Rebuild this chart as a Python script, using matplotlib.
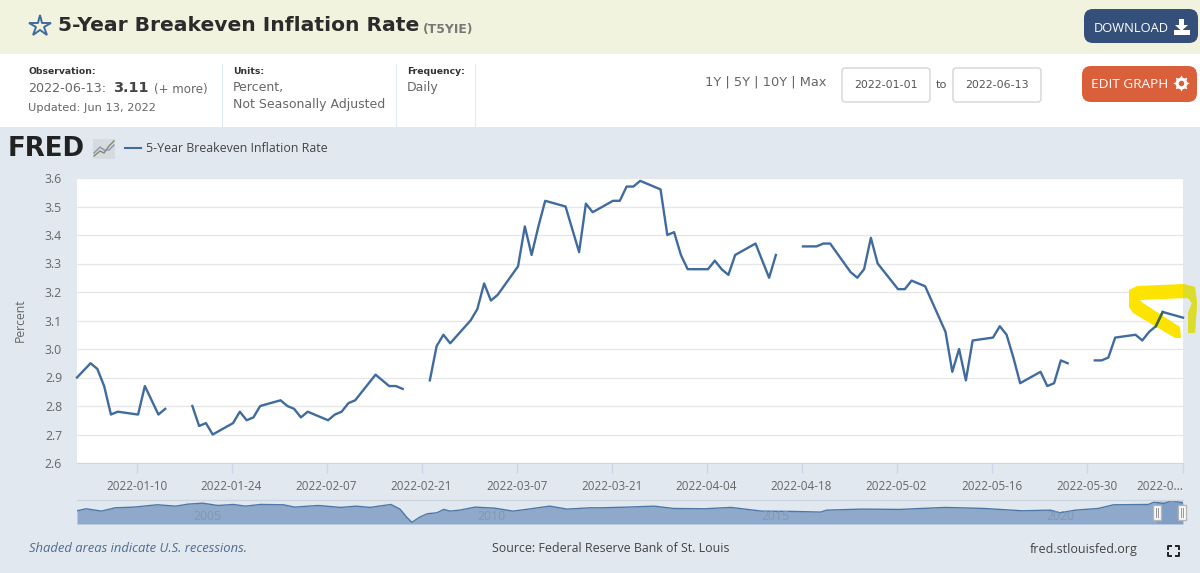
""" FRED 5-year breakeven inflation rate page, redrawn with matplotlib """
import pandas as pd
from matplotlib import pyplot as plt
from matplotlib.patches import FancyBboxPatch, Polygon, Rectangle
from matplotlib.transforms import ScaledTranslation

W, H = 1200, 573
nan = float("nan")

# daily observations, one row per week (Jan 1 first, then Mon-Fri from Jan 3)
obs_dates = pd.to_datetime(["2022-01-01"]).append(pd.bdate_range("2022-01-03", "2022-06-13"))
obs_values = [2.90,
              2.95, 2.93, 2.87, 2.77, 2.78,
              2.77, 2.87, 2.82, 2.77, 2.79,
              nan, 2.80, 2.73, 2.74, 2.70,
              2.74, 2.78, 2.75, 2.76, 2.80,
              2.82, 2.80, 2.79, 2.76, 2.78,
              2.75, 2.77, 2.78, 2.81, 2.82,
              2.91, 2.89, 2.87, 2.87, 2.86,
              nan, 2.89, 3.01, 3.05, 3.02,
              3.10, 3.14, 3.23, 3.17, 3.19,
              3.29, 3.43, 3.33, 3.43, 3.52,
              3.50, 3.42, 3.34, 3.51, 3.48,
              3.52, 3.52, 3.57, 3.57, 3.59,
              3.56, 3.40, 3.41, 3.33, 3.28,
              3.28, 3.31, 3.28, 3.26, 3.33,
              3.37, 3.31, 3.25, 3.33, nan,
              3.36, 3.36, 3.36, 3.37, 3.37,
              3.27, 3.25, 3.28, 3.39, 3.30,
              3.21, 3.21, 3.24, 3.23, 3.22,
              3.06, 2.92, 3.00, 2.89, 3.03,
              3.04, 3.08, 3.05, 2.97, 2.88,
              2.92, 2.87, 2.88, 2.96, 2.95,
              nan, 2.96, 2.96, 2.97, 3.04,
              3.05, 3.03, 3.06, 3.08, 3.13,
              3.11]

x_tick_dates = ["2022-01-10", "2022-01-24", "2022-02-07", "2022-02-21", "2022-03-07", "2022-03-21",
                "2022-04-04", "2022-04-18", "2022-05-02", "2022-05-16", "2022-05-30", "2022-06-13"]
x_tick_labels = x_tick_dates[:-1] + ["2022-0..."]
y_ticks = [2.6, 2.7, 2.8, 2.9, 3.0, 3.1, 3.2, 3.3, 3.4, 3.5, 3.6]

# long history in the navigator strip
nav_years = [2003.0, 2003.16, 2003.43, 2003.67, 2004.0, 2004.41, 2004.74, 2004.95, 2005.21, 2005.48,
             2005.75, 2005.96, 2006.23, 2006.63, 2006.83, 2007.24, 2007.64, 2007.91, 2008.15, 2008.52,
             2008.68, 2008.80, 2008.89, 2009.02, 2009.16, 2009.33, 2009.45, 2009.56, 2009.73, 2010.0,
             2010.34, 2010.67, 2010.94, 2011.31, 2011.62, 2012.02, 2012.21, 2012.68, 2013.15, 2013.49,
             2014.03, 2014.5, 2015.04, 2015.58, 2016.08, 2016.18, 2016.79, 2017.46, 2018.27, 2018.95,
             2019.62, 2020.12, 2020.29, 2020.56, 2020.96, 2021.23, 2021.84, 2021.94, 2022.11, 2022.25,
             2022.45]
nav_values = [2.05, 2.36, 2.00, 2.51, 2.62, 2.98, 2.77, 3.08, 3.23, 2.87,
              3.03, 2.77, 3.03, 2.98, 2.62, 2.87, 2.57, 2.77, 2.57, 3.03,
              2.31, 1.03, 0.26, 1.03, 1.59, 1.74, 2.26, 2.00, 2.15, 2.62,
              2.46, 2.00, 2.31, 2.77, 2.31, 2.51, 2.51, 2.62, 2.77, 2.41,
              2.36, 2.57, 2.00, 1.95, 1.85, 2.15, 2.31, 2.26, 2.57, 2.41,
              2.05, 2.15, 1.74, 2.15, 2.41, 2.98, 3.03, 3.39, 3.18, 3.59,
              3.29]
nav_year_labels = [2005, 2010, 2015, 2020]

BLUE = "#3f6b9e"
GREY = "#666666"
PAGE = "#e1e8f0"
SANS = "Open Sans"
WIDE = "DejaVu Sans"


def px_ax(left, top, right, bottom):
    """axes placed by picture pixels"""
    return fig.add_axes([left / W, 1 - bottom / H, (right - left) / W, (bottom - top) / H])


def label(x, y, s, size=8.2, color=GREY, family=WIDE, ha="left", **kw):
    return bg.text(x, y, s, fontsize=size, color=color, family=family, ha=ha, va="center", **kw)


def button(x0, y0, x1, y1, color, radius=9):
    bg.add_patch(FancyBboxPatch((x0 + radius, y0 + radius), x1 - x0 - 2 * radius, y1 - y0 - 2 * radius,
                                boxstyle="round,pad={},rounding_size={}".format(radius, radius),
                                fc=color, ec="none"))


fig = plt.figure(figsize=(W / 100, H / 100), dpi=100)

# page furniture, drawn in picture pixels
bg = px_ax(0, 0, W, H)
bg.set_xlim(0, W)
bg.set_ylim(H, 0)
bg.axis("off")
bg.add_patch(Rectangle((0, 0), W, 54, fc="#f2f3de", ec="none"))
bg.add_patch(Rectangle((0, 54), W, 73, fc="white", ec="none"))
bg.add_patch(Rectangle((0, 127), W, H - 127, fc=PAGE, ec="none"))

bg.plot(39.5, 26, marker="*", ms=16, mfc="none", mec="#3f6b9e", mew=1.4)
label(58, 25.5, "5-Year Breakeven Inflation Rate", size=14.6, color="#2b2b2b", weight="bold")
label(423, 29.5, "(T5YIE)", size=8.9, color="#777777", weight="bold")

label(28.5, 71, "Observation:", size=6.7, color="#333333", weight="bold")
label(28.5, 89, "2022-06-13:", size=9.2)
label(113, 88.5, "3.11", size=10.4, color="#444444", weight="bold")
label(154, 89, "(+ more)", size=8.6)
label(28.5, 108, "Updated: Jun 13, 2022", size=8.2)
label(233, 71, "Units:", size=6.7, color="#333333", weight="bold")
label(233, 87, "Percent,", size=9)
label(233, 104.5, "Not Seasonally Adjusted", size=9)
label(407, 71, "Frequency:", size=6.7, color="#333333", weight="bold")
label(407, 87, "Daily", size=9)
for x in [222, 396, 475]:
    bg.plot([x, x], [64, 127], color="#e3eaf2", lw=0.8)

label(705, 81.5, "1Y | 5Y | 10Y | Max", size=9.4)
for x0, s in [(842, "2022-01-01"), (953, "2022-06-13")]:
    bg.add_patch(FancyBboxPatch((x0 + 3, 71), 82, 28, boxstyle="round,pad=3,rounding_size=3",
                                fc="white", ec="#d5d5d5", lw=1))
    label(x0 + 44, 85.5, s, size=7.9, color="#555555", ha="center")
label(936, 85.5, "to", size=8.2, color="#555555")

button(1084, 9, 1198, 43, "#34507a")
label(1094, 28, "DOWNLOAD", size=9.3, color="white", family=SANS)
bg.fill([1179, 1184, 1184, 1188, 1181.5, 1175, 1179], [19, 19, 25, 25, 31, 25, 25], color="white", lw=0)
bg.add_patch(Rectangle((1174, 30), 16, 5, fc="white", ec="none"))
button(1082, 66, 1197, 102, "#d9603b")
label(1091, 84, "EDIT GRAPH", size=9.7, color="white", family=SANS)
bg.plot(1181, 83, marker=(8, 1, 0), ms=11, mfc="white", mec="white", mew=0.5)
bg.plot(1181, 83, marker="o", ms=7.5, mfc="white", mec="white")
bg.plot(1181, 83, marker="o", ms=3, mfc="#d9603b", mec="#d9603b")

# logo and legend
bg.text(8, 149, "FRED", fontsize=18.7, weight="bold", color="#222222", family=WIDE, va="center")
bg.add_patch(Rectangle((93, 139), 22, 20, fc="#d5dbe1", ec="none"))
bg.plot([94, 100, 104, 109, 114], [156, 151, 153, 146, 141], color="#7c8c6c", lw=1)
bg.plot([94, 100, 104, 109, 114], [153, 147, 150, 150, 145], color="#8a96a4", lw=1)
bg.plot([125, 141], [148, 148], color=BLUE, lw=1.5)
label(146, 148.5, "5-Year Breakeven Inflation Rate", size=8.9, color="#444444", family=SANS)

# footer
label(29, 549, "Shaded areas indicate U.S. recessions.", size=9.4, color="#4f6b8f", family=SANS, style="italic")
label(611, 549, "Source: Federal Reserve Bank of St. Louis", size=8.9, color="#444444", family=SANS, ha="center")
label(1084, 549, "fred.stlouisfed.org", size=9, color="#444444", family=SANS, ha="center")
for cx, cy, dx, dy in [(1168, 546, 1, 1), (1179, 546, -1, 1), (1168, 556, 1, -1), (1179, 556, -1, -1)]:
    bg.plot([cx + 4 * dx, cx, cx], [cy, cy, cy + 4 * dy], color="#222222", lw=1.4, solid_capstyle="butt")

# main chart
ax = px_ax(77, 178, 1183, 463)
ax.set_facecolor("white")
for side in ax.spines:
    ax.spines[side].set_visible(False)
ax.spines["bottom"].set_visible(True)
ax.spines["bottom"].set_color("#ccd6eb")
ax.set_xlim(pd.Timestamp("2022-01-01"), pd.Timestamp("2022-06-13"))
ax.set_ylim(2.6, 3.6)
ax.set_yticks(y_ticks)
ax.set_yticklabels(["{:.1f}".format(v) for v in y_ticks], fontsize=8.8, color=GREY, family=SANS)
ax.set_xticks(pd.to_datetime(x_tick_dates))
ax.set_xticklabels(x_tick_labels, fontsize=8.4, color=GREY, family=SANS)
ax.get_xticklabels()[-1].set_ha("right")
ax.tick_params(axis="y", length=0, pad=10.8)
ax.tick_params(axis="x", length=7, width=1, color="#ccd6eb", pad=5)
ax.grid(axis="y", color="#e6e6e6", lw=0.9)
ax.set_axisbelow(True)
ax.set_ylabel("Percent", fontsize=8.8, color=GREY, family=SANS)
ax.yaxis.set_label_coords((27 - 77) / (1183 - 77), 0.5)

# the site draws its ticks a little left of the data positions
shift = ScaledTranslation(-1.5 / 100, 0, fig.dpi_scale_trans)
for tick in ax.xaxis.get_major_ticks()[:-1]:
    tick.tick1line.set_transform(tick.tick1line.get_transform() + shift)
    tick.label1.set_transform(tick.label1.get_transform() + shift)

# highlighter scribble over the last readings, under the line
scribble = [(1129, 290), (1137, 286), (1183, 284), (1195, 287), (1197, 303), (1195, 333), (1188, 333),
            (1188, 313), (1192, 303), (1188, 298), (1140, 300), (1143, 303), (1180, 327), (1181, 338),
            (1175, 338), (1133, 313), (1129, 307)]
ax.add_patch(Polygon(scribble, transform=bg.transData, fc="#fde400", ec="none", clip_on=False, zorder=2))
# the marker looks olive where it runs over the blue page margin
olive = Polygon(scribble, transform=bg.transData, fc="#dbdd2c", ec="none", zorder=2.1)
ax.add_patch(olive)
olive.set_clip_path(Rectangle((1183, 270), 20, 80, transform=bg.transData))

ax.plot(obs_dates, obs_values, color=BLUE, lw=1.7, zorder=3, clip_on=False)
ax.plot(obs_dates[-3:-1], obs_values[-3:-1], color="#3d6b3a", lw=1.7, zorder=3.1, clip_on=False)

# navigator strip
nav = px_ax(77, 499.5, 1183, 524)
nav.patch.set_alpha(0)
nav.set_xlim(2003.0, 2022.45)
nav.set_ylim(0, 3.8)
nav.axis("off")
nav.fill_between(nav_years, nav_values, 0, color="#8ea9c9", lw=0)
nav.plot(nav_years, nav_values, color="#4e78a8", lw=1)
nav.axhline(3.8, color="#cdd5de", lw=1, clip_on=False)
nav.axvspan(2021.99, 2022.45, color="#6685c2", alpha=0.3, lw=0)
for year in nav_year_labels:
    nav.text(year + 0.29, 1.2, str(year), fontsize=8.8, color="#7f98b8", family=SANS, ha="center", va="center")

for x0 in [1153, 1178]:
    handle = Rectangle((x0, 505), 7.5, 15, fc="white", ec="#b5b5b5", lw=1, transform=bg.transData, zorder=5,
                       clip_on=False)
    nav.add_patch(handle)
    nav.plot([x0 + 2.8, x0 + 2.8], [508, 517], transform=bg.transData, color="#999999", lw=0.8, zorder=6,
             clip_on=False)
    nav.plot([x0 + 4.8, x0 + 4.8], [508, 517], transform=bg.transData, color="#999999", lw=0.8, zorder=6,
             clip_on=False)

plt.savefig("out.png", dpi=100)
